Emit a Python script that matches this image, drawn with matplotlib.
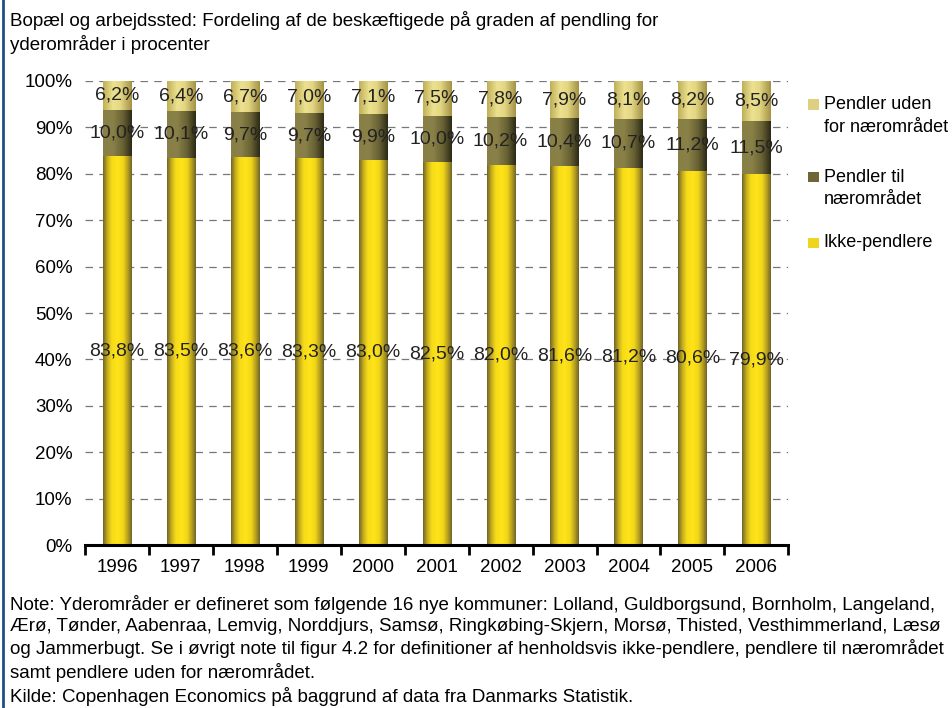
import numpy as np
import matplotlib
matplotlib.use('Agg')
import matplotlib.pyplot as plt
from matplotlib.colors import LinearSegmentedColormap
from matplotlib.patches import Rectangle
from matplotlib.lines import Line2D

plt.rcParams['font.family'] = ['Liberation Sans', 'DejaVu Sans']

years = ['1996', '1997', '1998', '1999', '2000', '2001', '2002', '2003', '2004', '2005', '2006']
ikke = [83.8, 83.5, 83.6, 83.3, 83.0, 82.5, 82.0, 81.6, 81.2, 80.6, 79.9]
til = [10.0, 10.1, 9.7, 9.7, 9.9, 10.0, 10.2, 10.4, 10.7, 11.2, 11.5]
uden = [6.2, 6.4, 6.7, 7.0, 7.1, 7.5, 7.8, 7.9, 8.1, 8.2, 8.5]
series_names = ['Ikke-pendlere', 'Pendler til\nnærområdet', 'Pendler uden\nfor nærområdet']

# horizontal gradients for the cylinder look
cm_ikke = LinearSegmentedColormap.from_list('ikke', [(0, '#6e6428'), (0.15, '#c4ab1e'), (0.3, '#f5da18'),
                                                      (0.5, '#ffe41a'), (0.7, '#f2d618'), (0.85, '#b9a220'),
                                                      (1, '#6e6428')])
cm_til = LinearSegmentedColormap.from_list('til', [(0, '#887f47'), (0.35, '#8a8148'), (0.7, '#676033'),
                                                    (1, '#2c2916')])
cm_uden = LinearSegmentedColormap.from_list('uden', [(0, '#bfae58'), (0.35, '#ede18f'), (0.6, '#e4d784'),
                                                      (1, '#a39246')])
cmaps = [cm_ikke, cm_til, cm_uden]
legend_cols = ['#f0d520', '#6e6636', '#ddd080']

fig = plt.figure(figsize=(9.53, 7.08), dpi=100)
ax = fig.add_axes([0.0892, 0.2302, 0.738, 0.6554])

x = np.arange(len(years))
width = 0.44
grad = np.linspace(0, 1, 256).reshape(1, -1)
bottom = np.zeros(len(years))
for vals, cm in zip([ikke, til, uden], cmaps):
    bars = ax.bar(x, vals, width, bottom=bottom, color='none', edgecolor='none', zorder=2)
    for b in bars:
        im = ax.imshow(grad, cmap=cm, aspect='auto', zorder=2,
                       extent=[b.get_x(), b.get_x() + b.get_width(), b.get_y(), b.get_y() + b.get_height()])
        im.set_clip_path(b)
    for xi, v, b0 in zip(x, vals, bottom):
        ax.text(xi, b0 + v / 2, f'{v:.1f}%'.replace('.', ','), ha='center', va='center',
                fontsize=14, color='#222222', zorder=4)
    bottom = bottom + np.array(vals)

ax.set_xlim(-0.5, len(years) - 0.5)
ax.set_ylim(0, 100)
ax.set_yticks(np.arange(0, 101, 10))
ax.set_yticklabels([f'{v}%' for v in range(0, 101, 10)], fontsize=13.5)
ax.set_xticks(x)
ax.set_xticklabels(years, fontsize=13.5)
ax.set_xticks(np.arange(-0.5, len(years)), minor=True)
ax.tick_params(axis='x', which='major', length=0, pad=10)
ax.tick_params(axis='x', which='minor', length=7, width=2, direction='out')
ax.tick_params(axis='y', length=0, pad=9)
for s in ['left', 'right', 'top']:
    ax.spines[s].set_visible(False)
ax.spines['bottom'].set_linewidth(2.2)
ax.yaxis.grid(True, linestyle=(0, (6, 5)), color='#777777', linewidth=0.9, zorder=0)
ax.set_axisbelow(True)

# legend drawn by hand so the square sits on the first text line
leg_y = [0.852, 0.750, 0.657]
for name, col, yy in zip(series_names[::-1], legend_cols[::-1], leg_y):
    fig.patches.append(Rectangle((0.848, yy - 0.0075), 0.011, 0.015, transform=fig.transFigure,
                                 facecolor=col, edgecolor='none'))
    fig.text(0.8645, yy + 0.012, name, fontsize=13, va='top', ha='left', linespacing=1.45)

fig.text(0.0105, 0.985, 'Bopæl og arbejdssted: Fordeling af de beskæftigede på graden af pendling for\n'
                        'yderområder i procenter', fontsize=13.5, va='top', ha='left', linespacing=1.38)

note = ('Note: Yderområder er defineret som følgende 16 nye kommuner: Lolland, Guldborgsund, Bornholm, Langeland,\n'
        'Ærø, Tønder, Aabenraa, Lemvig, Norddjurs, Samsø, Ringkøbing-Skjern, Morsø, Thisted, Vesthimmerland, Læsø\n'
        'og Jammerbugt. Se i øvrigt note til figur 4.2 for definitioner af henholdsvis ikke-pendlere, pendlere til nærområdet\n'
        'samt pendlere uden for nærområdet.\n'
        'Kilde: Copenhagen Economics på baggrund af data fra Danmarks Statistik.')
fig.text(0.0105, 0.160, note, fontsize=13.5, va='top', ha='left', linespacing=1.31)

fig.add_artist(Line2D([0.0035, 0.0035], [0, 1], transform=fig.transFigure, color='#1f4e8c', linewidth=2))

fig.savefig('out.png', dpi=100)
